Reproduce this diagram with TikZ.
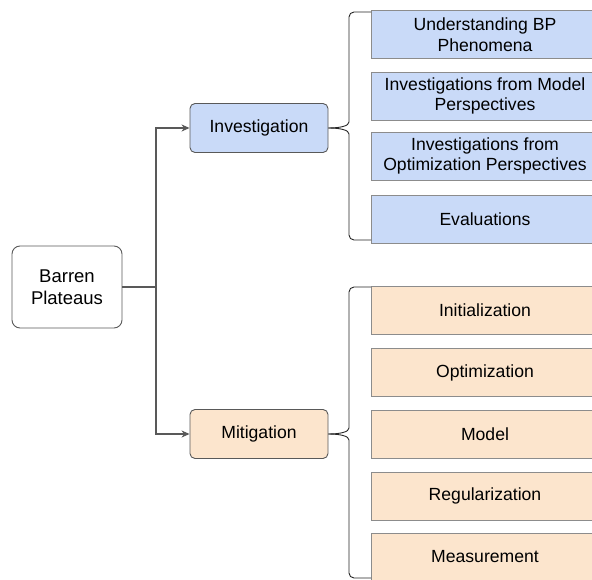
\documentclass[tikz,border=0pt]{standalone}
\usepackage{fontspec}
\setmainfont{Liberation Sans}
\usetikzlibrary{arrows.meta}
\definecolor{bluefill}{HTML}{C9DAF8}
\definecolor{orangefill}{HTML}{FCE5CD}
\definecolor{edgegray}{HTML}{595959}
\definecolor{boxgray}{HTML}{8C8C8C}
\begin{document}
\begin{tikzpicture}[x=1pt,y=-1pt,
	rootbox/.style={draw=edgegray,line width=0.9pt,rounded corners=8pt,fill=white,minimum width=110pt,minimum height=82pt,inner sep=0pt,align=center,font=\fontsize{18.5}{22}\selectfont},
	midbox/.style={draw=edgegray,line width=0.9pt,rounded corners=5pt,minimum width=138pt,minimum height=49pt,inner sep=0pt,font=\fontsize{17.6}{20.6}\selectfont},
	leafbox/.style={draw=boxgray,line width=0.8pt,minimum width=228pt,minimum height=48pt,inner sep=0pt,align=center,font=\fontsize{17.6}{20.6}\selectfont},
	conn/.style={draw=edgegray,line width=1.2pt,-{Stealth[length=8pt,width=7pt,inset=2.5pt]}},
	bracket/.style={draw=black!85,line width=0.9pt,rounded corners=5pt}]
		\useasboundingbox (0,0) rectangle (592,580);
		\clip (0,0) rectangle (592,580);
		\node[rootbox] (bp) at (67,287) {Barren\\Plateaus};
		\node[midbox,fill=bluefill] (inv) at (259,128) {Investigation};
		\node[midbox,fill=orangefill] (mit) at (259,434) {Mitigation};
		\coordinate (split) at (156,287);
		\draw[edgegray,line width=1.2pt] (bp) -- (split);
		\draw[conn] (split) |- (inv);
		\draw[conn] (split) |- (mit);
		\node[leafbox,fill=bluefill] (inv1) at (485,34.5) {Understanding BP\\Phenomena};
		\node[leafbox,fill=bluefill] (inv2) at (485,96) {Investigations from Model\\Perspectives};
		\node[leafbox,fill=bluefill] (inv3) at (485,156) {Investigations from\\Optimization Perspectives};
		\node[leafbox,fill=bluefill] (inv4) at (485,219) {Evaluations};
		\draw[bracket] (inv.east) .. controls (340,128) and (349,126) .. (349,117) -- (349,12) -- (371,12);
		\draw[bracket] (inv.east) .. controls (340,128) and (349,130) .. (349,139) -- (349,240) -- (371,240);
		\node[leafbox,fill=orangefill] (mit1) at (485,310.5) {Initialization};
		\node[leafbox,fill=orangefill] (mit2) at (485,372.5) {Optimization};
		\node[leafbox,fill=orangefill] (mit3) at (485,434) {Model};
		\node[leafbox,fill=orangefill] (mit4) at (485,496) {Regularization};
		\node[leafbox,fill=orangefill] (mit5) at (485,557) {Measurement};
		\draw[bracket] (mit.east) .. controls (340,434) and (349,432) .. (349,423) -- (349,287) -- (371,287);
		\draw[bracket] (mit.east) .. controls (340,434) and (349,436) .. (349,445) -- (349,578) -- (371,578);
	\end{tikzpicture}
\end{document}
